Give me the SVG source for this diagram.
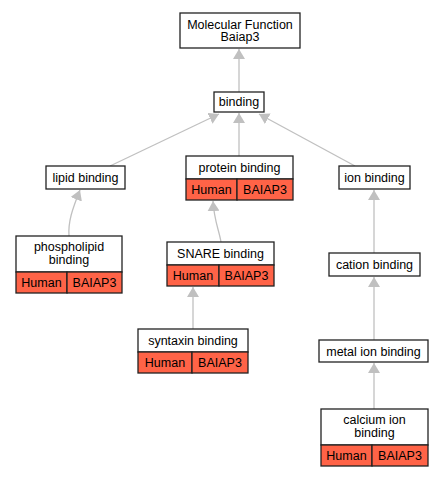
<svg xmlns="http://www.w3.org/2000/svg" width="444" height="477" viewBox="0 0 444 477">
<defs>
<marker id="ah" markerWidth="10" markerHeight="12" refX="10" refY="6" orient="auto" markerUnits="userSpaceOnUse" viewBox="0 0 10 12">
<path d="M0,0 L10,6 L0,12 Z" fill="#c0c0c0"/>
</marker>
</defs>
<style>
.box{fill:#ffffff;stroke:#222;stroke-width:1.3}
.red{fill:#ff6347;stroke:#222;stroke-width:1.3}
text{font-family:"Liberation Sans",Arial,sans-serif;font-size:12.5px;fill:#000;text-anchor:middle}
.e{fill:none;stroke:#c0c0c0;stroke-width:1.3;marker-end:url(#ah)}
</style>
<rect width="444" height="477" fill="#ffffff"/>
<g id="connectors">
<path class="e" d="M239,92 L239,49"/>
<path class="e" d="M110,166 L219,114"/>
<path class="e" d="M239,156 L239,113"/>
<path class="e" d="M355,166 L259,114"/>
<path class="e" d="M69,236 C68,222 72,210 80,190"/>
<path class="e" d="M221,242 C219,230 214,220 213,201"/>
<path class="e" d="M374,253 L374,190"/>
<path class="e" d="M193,329 L193,287"/>
<path class="e" d="M374,340 L374,277"/>
<path class="e" d="M374,409 L374,363"/>
</g>
<g id="mf">
<rect class="box" x="180" y="13" width="120" height="35"/>
<text x="240" y="28.5">Molecular Function</text>
<text x="240" y="41">Baiap3</text>
</g>
<g id="binding">
<rect class="box" x="214" y="92" width="50" height="20"/>
<text x="239" y="106">binding</text>
</g>
<g id="lipid">
<rect class="box" x="46" y="166" width="79" height="23"/>
<text x="85.5" y="182">lipid binding</text>
</g>
<g id="protein">
<rect class="box" x="186" y="156" width="107" height="23"/>
<rect class="red" x="186" y="179" width="51" height="21"/>
<rect class="red" x="237" y="179" width="56" height="21"/>
<text x="239.5" y="172">protein binding</text>
<text x="211.5" y="194">Human</text>
<text x="265" y="194">BAIAP3</text>
</g>
<g id="ion">
<rect class="box" x="339" y="166" width="71" height="23"/>
<text x="374.5" y="182">ion binding</text>
</g>
<g id="phospholipid">
<rect class="box" x="16" y="236" width="106" height="36"/>
<rect class="red" x="16" y="272" width="51" height="21"/>
<rect class="red" x="67" y="272" width="55" height="21"/>
<text x="69" y="251">phospholipid</text>
<text x="69" y="264">binding</text>
<text x="41.5" y="287">Human</text>
<text x="94.5" y="287">BAIAP3</text>
</g>
<g id="snare">
<rect class="box" x="167" y="242" width="107" height="23"/>
<rect class="red" x="167" y="265" width="52" height="21"/>
<rect class="red" x="219" y="265" width="55" height="21"/>
<text x="220.5" y="258">SNARE binding</text>
<text x="193" y="280">Human</text>
<text x="246.5" y="280">BAIAP3</text>
</g>
<g id="cation">
<rect class="box" x="329" y="253" width="91" height="23"/>
<text x="374.5" y="269">cation binding</text>
</g>
<g id="syntaxin">
<rect class="box" x="138" y="329" width="110" height="23"/>
<rect class="red" x="138" y="352" width="54" height="21"/>
<rect class="red" x="192" y="352" width="56" height="21"/>
<text x="193" y="345">syntaxin binding</text>
<text x="165" y="367">Human</text>
<text x="220" y="367">BAIAP3</text>
</g>
<g id="metal">
<rect class="box" x="319" y="340" width="109" height="22"/>
<text x="373.5" y="356">metal ion binding</text>
</g>
<g id="calcium">
<rect class="box" x="321" y="409" width="107" height="36"/>
<rect class="red" x="321" y="445" width="51" height="21"/>
<rect class="red" x="372" y="445" width="56" height="21"/>
<text x="374.5" y="424">calcium ion</text>
<text x="374.5" y="437">binding</text>
<text x="346.5" y="460">Human</text>
<text x="400" y="460">BAIAP3</text>
</g>
</svg>
